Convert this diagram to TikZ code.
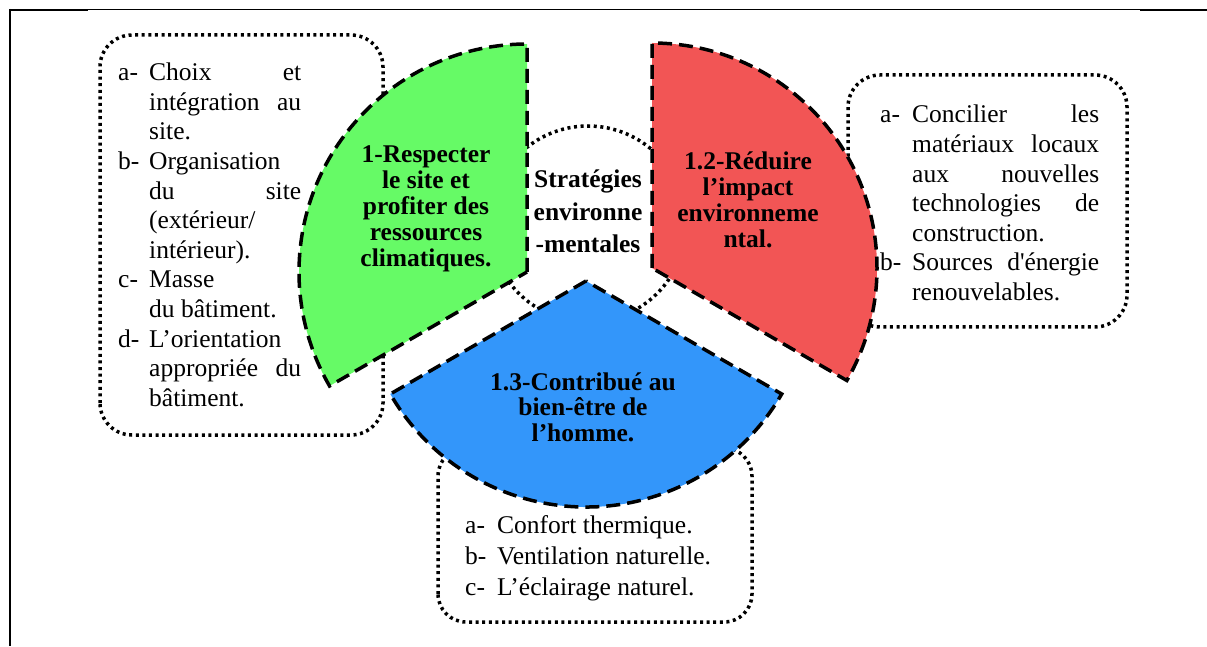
\documentclass[tikz,border=0pt]{standalone}
\usepackage{fontspec}
\setmainfont{Liberation Serif}
\usetikzlibrary{calc}

\definecolor{sectgreen}{RGB}{102,250,102}
\definecolor{sectred}{RGB}{242,85,85}
\definecolor{sectblue}{RGB}{51,150,250}

\newlength{\lblw}
\newlength{\txtw}
% one justified line and one flush-left line of a list
\newcommand{\jline}[2]{\makebox[\lblw][l]{#1}\makebox[\txtw][s]{#2}\par}
\newcommand{\fline}[2]{\makebox[\lblw][l]{#1}\makebox[\txtw][l]{#2}\par}

\begin{document}
\begin{tikzpicture}[%
x=1pt, y=1pt,
sector/.style={draw=black, line width=3.5pt, dash pattern=on 14pt off 7pt},
dotline/.style={draw=black, line width=3.5pt, dash pattern=on 3pt off 3.6pt},
dotbox/.style={dotline, rounded corners=32pt},
title/.style={anchor=base, inner sep=0pt, font=\fontsize{25.5}{26}\selectfont\bfseries},
listtext/.style={anchor=base west, inner sep=0pt, font=\fontsize{25.5}{29.6}\selectfont},
]
\useasboundingbox (0,0) rectangle (1207,646);
%% frame;
\draw [line width=2pt] (9,636) -- (88,636);
\draw [line width=1pt] (88,636) -- (1140,636);
\draw [line width=2pt] (1140,636) -- (1207,636);
\draw [line width=2pt] (10,637) -- (10,0);
%% boxes;
\draw [dotbox] (100,211) rectangle (383,611);
\draw [dotbox] (848,319) rectangle (1127,571);
\draw [dotbox, rounded corners=28pt] (438,24) rectangle (752,198);
%% circle;
\draw [dotline] (588,422) circle (98);
%% sectors;
\draw [sector, fill=sectgreen] (527,374) -- ++(90:228) arc (90:210:228) -- cycle;
\draw [sector, fill=sectred] (652,378) -- ++(90:225) arc (90:-30:225) -- cycle;
\draw [sector, fill=sectblue] (586,365) -- ++(210:226) arc (210:330:226) -- cycle;
%% titles;
\node (strat) [title, font=\fontsize{25.5}{32.5}\selectfont\bfseries] at (588,458)
  {\parbox[t]{160pt}{\centering Stratégies\\environne\\-mentales}};
\node (respect) [title] at (426,483)
  {\parbox[t]{240pt}{\centering 1-Respecter\\le site et\\profiter des\\ressources\\climatiques.}};
\node (reduire) [title] at (748,476)
  {\parbox[t]{240pt}{\centering 1.2-Réduire\\l’impact\\environneme\\ntal.}};
\node (bienetre) [title] at (583,256)
  {\parbox[t]{240pt}{\centering 1.3-Contribué au\\bien-être de\\l’homme.}};
%% lists;
\node (sitelist) [listtext] at (118,565.3)
  {\parbox[t]{183pt}{\setlength{\lblw}{31pt}\setlength{\txtw}{152pt}\parindent=0pt
  \jline{a-}{Choix et}
  \jline{}{intégration au}
  \fline{}{site.}
  \fline{b-}{Organisation}
  \jline{}{du site}
  \fline{}{(extérieur/}
  \fline{}{intérieur).}
  \fline{c-}{Masse}
  \fline{}{du bâtiment.}
  \fline{d-}{L’orientation}
  \jline{}{appropriée du}
  \fline{}{bâtiment.}}};
\node (impactlist) [listtext] at (880,523)
  {\parbox[t]{219pt}{\setlength{\lblw}{32pt}\setlength{\txtw}{187pt}\parindent=0pt
  \jline{a-}{Concilier les}
  \jline{}{matériaux locaux}
  \jline{}{aux nouvelles}
  \jline{}{technologies de}
  \fline{}{construction.}
  \jline{b-}{Sources d\textquotesingle énergie}
  \fline{}{renouvelables.}}};
\node (hommelist) [listtext, font=\fontsize{25.5}{31}\selectfont] at (465,113)
  {\parbox[t]{282pt}{\setlength{\lblw}{32pt}\setlength{\txtw}{250pt}\parindent=0pt
  \fline{a-}{Confort thermique.}
  \fline{b-}{Ventilation naturelle.}
  \fline{c-}{L’éclairage naturel.}}};
\end{tikzpicture}
\end{document}
